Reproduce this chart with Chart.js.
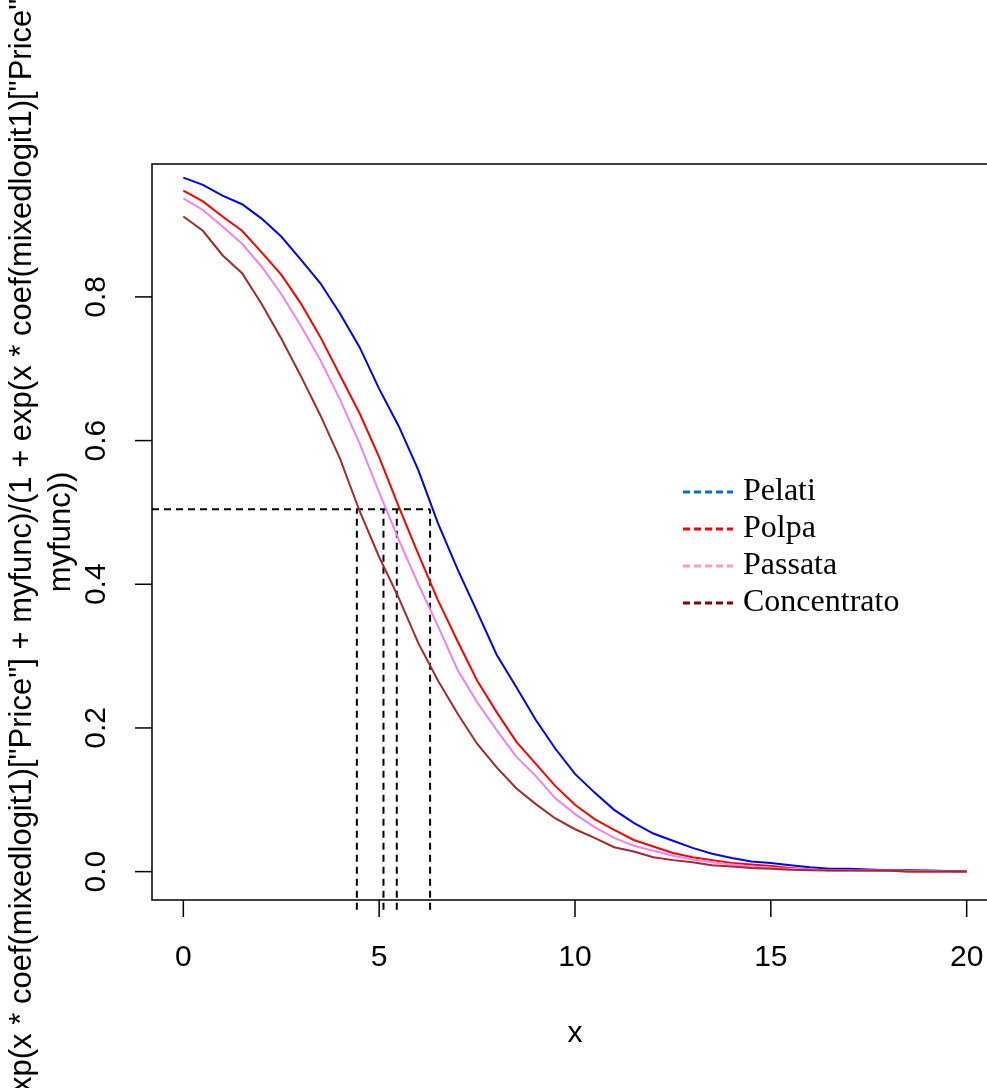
<!DOCTYPE html>
<html>
<head>
<meta charset="utf-8">
<script src="https://cdn.jsdelivr.net/npm/chart.js@4.4.1/dist/chart.umd.min.js"></script>
<style>
  html, body { margin: 0; padding: 0; background: #fff; overflow: hidden; }
  #wrap { width: 1000px; height: 1088px; }
</style>
</head>
<body>
<div id="wrap"><canvas id="c" width="1000" height="1088"></canvas></div>
<script>
// price grid shared by the four curves
const xs = [0, 0.5, 1, 1.5, 2, 2.5, 3, 3.5, 4, 4.5, 5, 5.5, 6, 6.5, 7, 7.5, 8, 8.5, 9, 9.5,
  10, 10.5, 11, 11.5, 12, 12.5, 13, 13.5, 14, 14.5, 15, 15.5, 16, 16.5, 17, 17.5, 18, 18.5, 19, 19.5, 20];

const pelati = [0.966, 0.956, 0.941, 0.929, 0.909, 0.884, 0.852, 0.819, 0.777, 0.730, 0.672, 0.620, 0.559, 0.485,
  0.421, 0.362, 0.302, 0.257, 0.211, 0.171, 0.136, 0.110, 0.086, 0.068, 0.053, 0.043, 0.033, 0.025, 0.019, 0.014,
  0.012, 0.009, 0.006, 0.004, 0.004, 0.003, 0.002, 0.002, 0.0015, 0.001, 0.0];
const polpa = [0.948, 0.933, 0.912, 0.892, 0.862, 0.831, 0.791, 0.744, 0.691, 0.638, 0.577, 0.508, 0.442, 0.378,
  0.321, 0.266, 0.222, 0.181, 0.150, 0.119, 0.093, 0.073, 0.058, 0.044, 0.035, 0.026, 0.020, 0.016, 0.012, 0.010,
  0.008, 0.005, 0.003, 0.002, 0.002, 0.0015, 0.0013, 0.0, 0.0, 0.0, 0.0];
const passata = [0.937, 0.921, 0.898, 0.874, 0.842, 0.804, 0.760, 0.712, 0.657, 0.596, 0.528, 0.462, 0.400, 0.342,
  0.281, 0.236, 0.197, 0.160, 0.133, 0.102, 0.080, 0.062, 0.047, 0.036, 0.029, 0.022, 0.017, 0.013, 0.010, 0.007,
  0.005, 0.004, 0.003, 0.002, 0.002, 0.002, 0.0015, 0.001, 0.001, 0.0, 0.0];
const concentrato = [0.912, 0.892, 0.858, 0.833, 0.790, 0.742, 0.690, 0.635, 0.575, 0.502, 0.438, 0.381, 0.318, 0.266,
  0.220, 0.178, 0.145, 0.116, 0.094, 0.074, 0.059, 0.047, 0.034, 0.028, 0.020, 0.016, 0.013, 0.009, 0.007, 0.005,
  0.004, 0.0025, 0.002, 0.0015, 0.0015, 0.0014, 0.0014, 0.0, 0.0, 0.0, 0.0];

// prices at which each curve reaches ~0.5 (dashed guides)
const halfX = [4.43, 5.11, 5.45, 6.30];
const halfY = 0.5045;

const xTicks = [0, 5, 10, 15, 20];
const yTicks = [0, 0.2, 0.4, 0.6, 0.8];
const yTickLabels = ["0.0", "0.2", "0.4", "0.6", "0.8"];

const legendNames = ["Pelati", "Polpa", "Passata", "Concentrato"];
const legendColors = ["#0072CE", "#FF0000", "#FF99CC", "#8B0000"];

const yTitle1 = 'exp(x * coef(mixedlogit1)["Price"] + myfunc)/(1 + exp(x * coef(mixedlogit1)["Price"] + ';
const yTitle2 = "myfunc))";

const pts = (ys) => xs.map((x, i) => ({ x, y: ys[i] }));

const curve = (label, ys, color, order) => ({
  label, data: pts(ys), borderColor: color, borderWidth: 2,
  pointRadius: 0, fill: false, tension: 0, order,
});

const guide = (data) => ({
  data, borderColor: "#000", borderWidth: 2, borderDash: [7, 5],
  pointRadius: 0, fill: false, clip: false, order: 10,
});

const datasets = [
  curve("Polpa", polpa, "#FF0000", 4),
  curve("Pelati", pelati, "#0000FF", 3),
  curve("Passata", passata, "#EE82EE", 2),
  curve("Concentrato", concentrato, "#A52A2A", 1),
  guide([{ x: -0.8, y: halfY }, { x: halfX[3], y: halfY }]),
  ...halfX.map((hx) => guide([{ x: hx, y: -0.053 }, { x: hx, y: halfY }])),
];

const SANS = "Liberation Sans, Arial, sans-serif";
const SERIF = "Liberation Serif, Times New Roman, serif";

const rBase = {
  id: "rBase",
  afterDraw(chart) {
    const { ctx, chartArea: a, scales: { x, y } } = chart;
    ctx.save();
    ctx.strokeStyle = "#000";
    ctx.fillStyle = "#000";
    ctx.lineWidth = 1.5;
    ctx.strokeRect(a.left, a.top, a.right - a.left, a.bottom - a.top);

    // x axis
    ctx.font = `30px ${SANS}`;
    ctx.textAlign = "center";
    ctx.textBaseline = "middle";
    xTicks.forEach((v) => {
      const px = x.getPixelForValue(v);
      ctx.beginPath();
      ctx.moveTo(px, a.bottom);
      ctx.lineTo(px, a.bottom + 17);
      ctx.stroke();
      ctx.fillText(String(v), px, 958);
    });
    ctx.fillText("x", (a.left + a.right) / 2, 1034);

    // y axis, labels parallel to the axis
    yTicks.forEach((v, i) => {
      const py = y.getPixelForValue(v);
      ctx.beginPath();
      ctx.moveTo(a.left - 17, py);
      ctx.lineTo(a.left, py);
      ctx.stroke();
      ctx.save();
      ctx.translate(97, py);
      ctx.rotate(-Math.PI / 2);
      ctx.fillText(yTickLabels[i], 0, 0);
      ctx.restore();
    });
    ctx.save();
    ctx.font = `31px ${SANS}`;
    ctx.translate(22, (a.top + a.bottom) / 2);
    ctx.rotate(-Math.PI / 2);
    ctx.fillText(yTitle1, 0, 0);
    ctx.fillText(yTitle2, 0, 39);
    ctx.restore();

    // legend (no box)
    ctx.font = `32px ${SERIF}`;
    ctx.textAlign = "left";
    legendNames.forEach((name, i) => {
      const ly = 492 + i * 37;
      ctx.strokeStyle = legendColors[i];
      ctx.lineWidth = 3;
      ctx.setLineDash([7, 4]);
      ctx.beginPath();
      ctx.moveTo(683, ly);
      ctx.lineTo(733, ly);
      ctx.stroke();
      ctx.setLineDash([]);
      ctx.fillText(name, 743, ly);
    });
    ctx.restore();
  },
};

new Chart(document.getElementById("c"), {
  type: "line",
  data: { datasets },
  options: {
    responsive: false,
    animation: false,
    layout: { padding: { left: 152, top: 164, right: 2, bottom: 188 } },
    scales: {
      x: { type: "linear", min: -0.8, max: 20.8, display: false },
      y: { type: "linear", min: -0.0395, max: 0.985, display: false },
    },
    plugins: { legend: { display: false }, tooltip: { enabled: false } },
  },
  plugins: [rBase],
});
</script>
</body>
</html>
